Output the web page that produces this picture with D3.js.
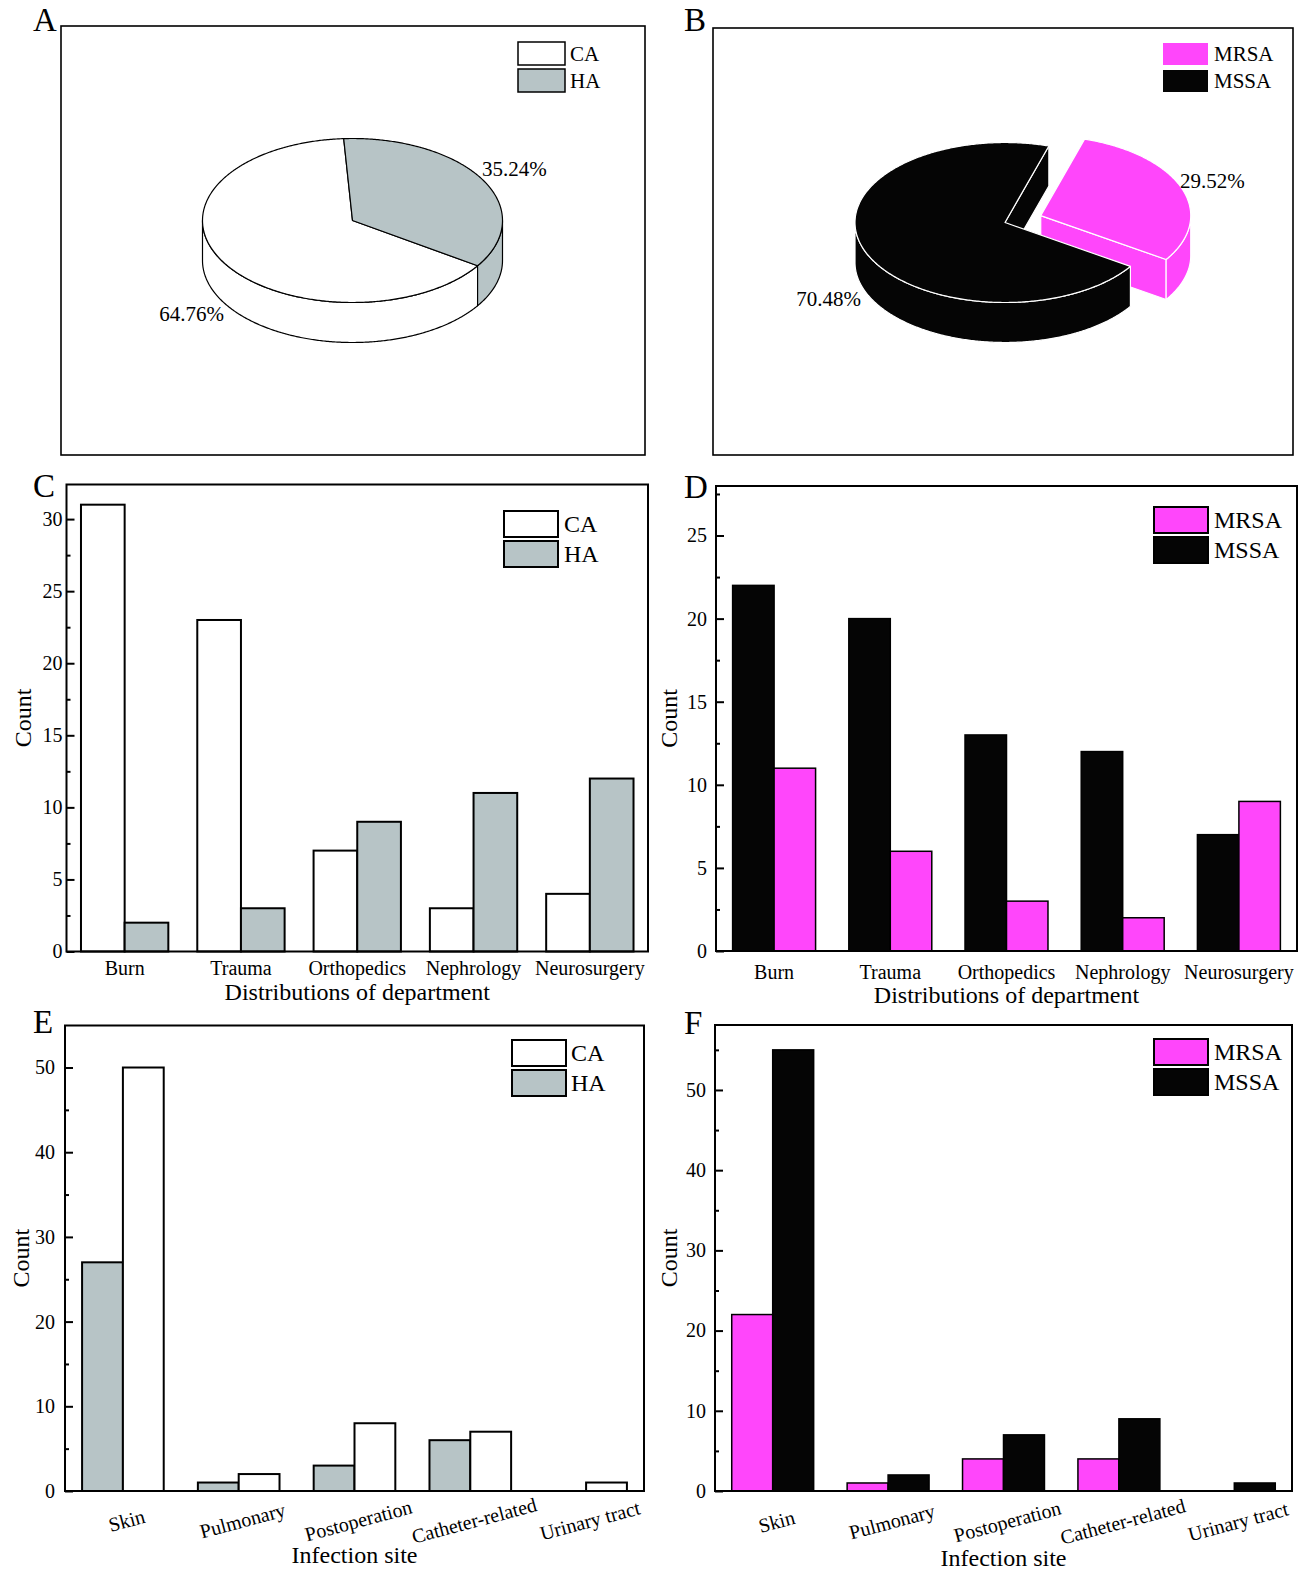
<!DOCTYPE html>
<html>
<head>
<meta charset="utf-8">
<script src="https://cdn.jsdelivr.net/npm/d3@7"></script>
<style>
  body { margin: 0; background: #fff; }
  svg { display: block; }
  text { font-family: "Liberation Serif", "Times New Roman", serif; fill: #000; }
</style>
</head>
<body>
<svg id="fig" width="1306" height="1572"></svg>
<script>
// ---- data ----
const originLabels = ["CA", "HA"];
const originShares = [64.76, 35.24];
const resistLabels = ["MRSA", "MSSA"];
const resistShares = [29.52, 70.48];

const departments = ["Burn", "Trauma", "Orthopedics", "Nephrology", "Neurosurgery"];
const deptCA = [31, 23, 7, 3, 4];
const deptHA = [2, 3, 9, 11, 12];
const deptMSSA = [22, 20, 13, 12, 7];
const deptMRSA = [11, 6, 3, 2, 9];

const sites = ["Skin", "Pulmonary", "Postoperation", "Catheter-related", "Urinary tract"];
const siteHA = [27, 1, 3, 6, 0];
const siteCA = [50, 2, 8, 7, 1];
const siteMRSA = [22, 1, 4, 4, 0];
const siteMSSA = [55, 2, 7, 9, 1];

// ---- styling ----
const FONT = "'Liberation Serif','Times New Roman',serif";
const WHITE = "#ffffff", GRAY = "#b7c4c6", PINK = "#ff46fb", BLACK = "#050505";
const deg = Math.PI / 180;

const svg = d3.select("#fig");

function panelLetter(x, y, t) {
  svg.append("text").attr("x", x).attr("y", y).attr("font-size", 33).text(t);
}

function legend(g, o) {
  o.items.forEach((it, i) => {
    g.append("rect")
      .attr("x", o.x).attr("y", o.y + i * o.gap)
      .attr("width", o.w).attr("height", o.h)
      .attr("fill", it.color)
      .attr("stroke", o.stroke).attr("stroke-width", o.sw);
    g.append("text")
      .attr("x", o.tx).attr("y", o.y + i * o.gap + o.h / 2)
      .attr("dy", "0.35em").attr("font-size", o.fs)
      .text(it.label);
  });
}

// ---- 3D pie ----
function pie3d(g, o) {
  const arcs = d3.pie().sort(null)
    .startAngle(o.start).endAngle(o.start + 2 * Math.PI)(o.values);
  const pt = (a, ox, oy, dz) => [ox + o.rx * Math.sin(a), oy - o.ry * Math.cos(a) + dz];
  const arcPts = (a0, a1, ox, oy, dz) => {
    const n = Math.max(2, Math.ceil(Math.abs(a1 - a0) / 0.01));
    return d3.range(n + 1).map(i => pt(a0 + (a1 - a0) * i / n, ox, oy, dz));
  };
  const line = d3.line();

  arcs.forEach(d => {
    const mid = (d.startAngle + d.endAngle) / 2;
    const e = d.index === o.explodeIndex ? o.explodeDist : 0;
    d.ox = o.cx + e * Math.sin(mid);
    d.oy = o.cy - e * Math.cos(mid) * o.ry / o.rx;
    d.exploded = o.explodeIndex != null;
  });

  const style = (sel, d) => sel
    .attr("fill", o.colors[d.index])
    .attr("stroke", o.edge).attr("stroke-width", o.edgeWidth)
    .attr("stroke-linejoin", "round");

  o.order.forEach(idx => {
    const d = arcs[idx];
    const a0 = d.startAngle, a1 = d.endAngle;
    // radial side faces, shown only where the slice is separated
    if (d.exploded) {
      const faces = [];
      if (Math.sin(a1) > 0) faces.push(a1);
      if (Math.sin(a0) < 0) faces.push(a0);
      faces.forEach(a => {
        const r = pt(a, d.ox, d.oy, 0);
        const poly = [[d.ox, d.oy], r, [r[0], r[1] + o.depth], [d.ox, d.oy + o.depth]];
        style(g.append("path").attr("d", line(poly) + "Z"), d);
      });
    }
    // outer curved wall on the front half of the ellipse
    for (let k = -1; k <= 2; k++) {
      const lo = Math.max(a0, Math.PI / 2 + 2 * Math.PI * k);
      const hi = Math.min(a1, 3 * Math.PI / 2 + 2 * Math.PI * k);
      if (hi > lo) {
        const top = arcPts(lo, hi, d.ox, d.oy, 0);
        const bot = arcPts(lo, hi, d.ox, d.oy, o.depth).reverse();
        style(g.append("path").attr("d", line(top.concat(bot)) + "Z"), d);
      }
    }
    // top face
    const topPoly = [[d.ox, d.oy]].concat(arcPts(a0, a1, d.ox, d.oy, 0));
    style(g.append("path").attr("d", line(topPoly) + "Z"), d);
  });

  // percentage labels
  arcs.forEach(d => {
    const p = o.labelPos[d.index];
    g.append("text")
      .attr("x", p[0]).attr("y", p[1])
      .attr("text-anchor", p[2])
      .attr("font-size", 21)
      .text(o.values[d.index].toFixed(2) + "%");
  });
}

// ---- grouped bar chart ----
function barPanel(o) {
  const g = svg.append("g");
  const x = d3.scaleBand().domain(o.cats).range([o.x0, o.x1])
    .paddingInner(o.pad).paddingOuter(o.pad / 2);
  const xs = d3.scaleBand().domain(o.series.map(s => s.key)).range([0, x.bandwidth()]);
  const y = d3.scaleLinear().domain([0, o.yMax]).range([o.yAxis, o.yTop]);

  o.series.forEach(s => {
    g.append("g").selectAll("rect")
      .data(o.cats.map((c, i) => ({ c, v: s.values[i] })).filter(d => d.v > 0))
      .join("rect")
      .attr("x", d => x(d.c) + xs(s.key))
      .attr("y", d => y(d.v))
      .attr("width", xs.bandwidth())
      .attr("height", d => y(0) - y(d.v))
      .attr("fill", s.color)
      .attr("stroke", "#000").attr("stroke-width", o.barSW);
  });

  const majors = d3.range(0, o.yMax + 1e-9, o.major);
  const minors = d3.range(o.minor, o.yMax - 0.05, o.minor)
    .filter(v => Math.abs(v / o.major - Math.round(v / o.major)) > 1e-6);

  const ay = g.append("g").attr("transform", `translate(${o.x0},0)`)
    .call(d3.axisLeft(y).tickValues(majors).tickSizeInner(-8).tickSizeOuter(0)
      .tickPadding(o.tickGap).tickFormat(d3.format("d")));
  ay.attr("font-family", FONT).attr("font-size", 20);
  ay.select(".domain").remove();
  ay.selectAll("line").attr("stroke", "#000").attr("stroke-width", 2);
  ay.selectAll("text").attr("fill", "#000");

  const am = g.append("g").attr("transform", `translate(${o.x0},0)`)
    .call(d3.axisLeft(y).tickValues(minors).tickSizeInner(-4).tickSizeOuter(0).tickFormat(""));
  am.select(".domain").remove();
  am.selectAll("line").attr("stroke", "#000").attr("stroke-width", 2);

  const ax = g.append("g").attr("transform", `translate(0,${o.yAxis})`)
    .call(d3.axisBottom(x).tickSize(0).tickPadding(0));
  ax.attr("font-family", FONT).attr("font-size", o.catFs);
  ax.select(".domain").remove();
  ax.selectAll("text").attr("fill", "#000");
  if (o.rotate) {
    ax.selectAll("text")
      .attr("y", 0).attr("dy", "0.32em")
      .attr("text-anchor", "middle")
      .attr("transform", `translate(${o.catDx},${o.catY - o.yAxis}) rotate(${o.rotate})`);
  } else {
    ax.selectAll("text").attr("y", o.catY - o.yAxis).attr("dy", 0);
  }

  // frame
  g.append("rect")
    .attr("x", o.x0).attr("y", o.yTop)
    .attr("width", o.x1 - o.x0).attr("height", o.yAxis - o.yTop)
    .attr("fill", "none").attr("stroke", "#000").attr("stroke-width", 2);

  // axis titles
  g.append("text")
    .attr("x", (o.x0 + o.x1) / 2).attr("y", o.titleY)
    .attr("text-anchor", "middle").attr("font-size", 24)
    .text(o.title);
  g.append("text")
    .attr("transform", `translate(${o.countX},${(o.yTop + o.yAxis) / 2}) rotate(-90)`)
    .attr("text-anchor", "middle").attr("font-size", 24)
    .text("Count");

  legend(g, Object.assign({
    items: o.series.slice().sort((a, b) => a.legendOrder - b.legendOrder)
      .map(s => ({ label: s.key, color: s.color })),
    stroke: "#000", sw: 2, fs: 24, w: 54, h: 26, gap: 30
  }, o.legend));
}

// ---- panel A: origin share ----
panelLetter(33, 31, "A");
const gA = svg.append("g");
gA.append("rect").attr("x", 61).attr("y", 26).attr("width", 584).attr("height", 429)
  .attr("fill", "none").attr("stroke", "#000").attr("stroke-width", 1.6);
pie3d(gA, {
  cx: 352.5, cy: 220.5, rx: 150, ry: 82, depth: 40,
  values: originShares, colors: [WHITE, GRAY],
  start: 123.5 * deg, explodeIndex: null, explodeDist: 0,
  edge: "#000", edgeWidth: 1.2, order: [0, 1],
  labelPos: [[224, 321, "end"], [482, 176, "start"]]
});
legend(gA, {
  items: originLabels.map((l, i) => ({ label: l, color: [WHITE, GRAY][i] })),
  x: 518, y: 42, w: 47, h: 23, gap: 27, tx: 570, fs: 21, stroke: "#000", sw: 1.5
});

// ---- panel B: resistance share ----
panelLetter(684, 31, "B");
const gB = svg.append("g");
gB.append("rect").attr("x", 713).attr("y", 28).attr("width", 580).attr("height", 427)
  .attr("fill", "none").attr("stroke", "#000").attr("stroke-width", 1.6);
pie3d(gB, {
  cx: 1005, cy: 222.5, rx: 150, ry: 80, depth: 40,
  values: resistShares, colors: [PINK, BLACK],
  start: 17 * deg, explodeIndex: 0, explodeDist: 38,
  edge: "#fff", edgeWidth: 1.2, order: [0, 1],
  labelPos: [[1180, 188, "start"], [861, 306, "end"]]
});
legend(gB, {
  items: resistLabels.map((l, i) => ({ label: l, color: [PINK, BLACK][i] })),
  x: 1163, y: 43, w: 45, h: 22, gap: 27, tx: 1214, fs: 21, stroke: "none", sw: 0
});

// ---- panel C: departments, CA vs HA ----
panelLetter(33, 497, "C");
barPanel({
  cats: departments,
  series: [
    { key: "CA", values: deptCA, color: WHITE, legendOrder: 0 },
    { key: "HA", values: deptHA, color: GRAY, legendOrder: 1 }
  ],
  x0: 66.5, x1: 648, yAxis: 951.5, yTop: 484.5, yMax: 32.4,
  major: 5, minor: 2.5, pad: 0.249, barSW: 2, tickGap: 4,
  catFs: 20, catY: 975, titleY: 1000, countX: 31,
  title: "Distributions of department",
  legend: { x: 504, y: 511, tx: 564 }
});

// ---- panel D: departments, MSSA vs MRSA ----
panelLetter(684, 498, "D");
barPanel({
  cats: departments,
  series: [
    { key: "MSSA", values: deptMSSA, color: BLACK, legendOrder: 1 },
    { key: "MRSA", values: deptMRSA, color: PINK, legendOrder: 0 }
  ],
  x0: 716, x1: 1297, yAxis: 951, yTop: 486, yMax: 27.98,
  major: 5, minor: 2.5, pad: 0.286, barSW: 1.5, tickGap: 9,
  catFs: 20, catY: 979, titleY: 1003, countX: 677,
  title: "Distributions of department",
  legend: { x: 1154, y: 507, tx: 1214 }
});

// ---- panel E: infection site, HA vs CA ----
panelLetter(33, 1033, "E");
barPanel({
  cats: sites,
  series: [
    { key: "HA", values: siteHA, color: GRAY, legendOrder: 1 },
    { key: "CA", values: siteCA, color: WHITE, legendOrder: 0 }
  ],
  x0: 65, x1: 644, yAxis: 1491, yTop: 1025.5, yMax: 54.96,
  major: 10, minor: 5, pad: 0.295, barSW: 2, tickGap: 10,
  catFs: 20, catY: 1521, catDx: 4, rotate: -15, titleY: 1563, countX: 29,
  title: "Infection site",
  legend: { x: 512, y: 1040, tx: 571 }
});

// ---- panel F: infection site, MRSA vs MSSA ----
panelLetter(684, 1034, "F");
barPanel({
  cats: sites,
  series: [
    { key: "MRSA", values: siteMRSA, color: PINK, legendOrder: 0 },
    { key: "MSSA", values: siteMSSA, color: BLACK, legendOrder: 1 }
  ],
  x0: 715, x1: 1292, yAxis: 1491, yTop: 1025, yMax: 58.1,
  major: 10, minor: 5, pad: 0.29, barSW: 1.5, tickGap: 9,
  catFs: 20, catY: 1522, catDx: 4, rotate: -15, titleY: 1566, countX: 677,
  title: "Infection site",
  legend: { x: 1154, y: 1039, tx: 1214 }
});
</script>
</body>
</html>
